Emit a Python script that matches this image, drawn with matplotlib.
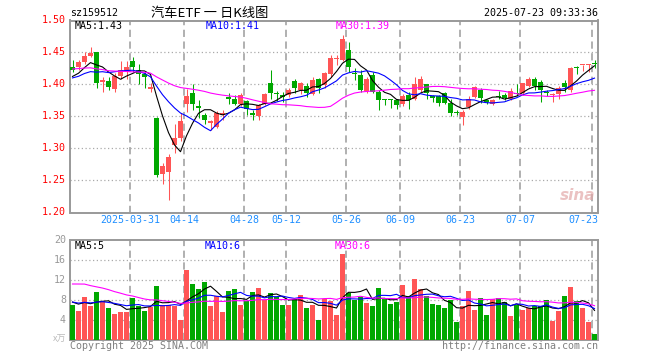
import matplotlib
matplotlib.use("Agg")
import matplotlib.pyplot as plt
import matplotlib.transforms as mtransforms
import numpy as np
import pandas as pd

# daily candles 2025-03-17 .. 2025-07-23 (88 trading days)
opens = [1.428, 1.427, 1.435, 1.444, 1.450, 1.404, 1.406, 1.393, 1.413, 1.421,
         1.436, 1.423, 1.417, 1.393, 1.348, 1.260, 1.264, 1.305, 1.316, 1.370,
         1.387, 1.367, 1.352, 1.340, 1.334, 1.352, 1.381, 1.378, 1.370, 1.374,
         1.356, 1.350, 1.369, 1.402, 1.387, 1.384, 1.383, 1.406, 1.392, 1.397,
         1.385, 1.408, 1.399, 1.417, 1.440, 1.439, 1.454, 1.417, 1.415, 1.390,
         1.415, 1.389, 1.377, 1.376, 1.375, 1.370, 1.383, 1.378, 1.391, 1.400,
         1.382, 1.382, 1.386, 1.371, 1.357, 1.349, 1.365, 1.381, 1.392, 1.376,
         1.370, 1.381, 1.383, 1.378, 1.387, 1.386, 1.398, 1.408, 1.404, 1.388,
         1.384, 1.385, 1.403, 1.391, 1.426, 1.430, 1.431, 1.433]
highs = [1.439, 1.439, 1.450, 1.459, 1.450, 1.412, 1.412, 1.418, 1.437, 1.437,
         1.443, 1.432, 1.419, 1.403, 1.349, 1.278, 1.291, 1.338, 1.355, 1.393,
         1.400, 1.375, 1.355, 1.344, 1.358, 1.360, 1.387, 1.383, 1.387, 1.376,
         1.360, 1.370, 1.386, 1.422, 1.390, 1.389, 1.395, 1.408, 1.404, 1.402,
         1.412, 1.410, 1.420, 1.446, 1.446, 1.478, 1.467, 1.425, 1.422, 1.412,
         1.420, 1.391, 1.378, 1.378, 1.377, 1.385, 1.389, 1.412, 1.413, 1.401,
         1.383, 1.383, 1.389, 1.377, 1.360, 1.360, 1.382, 1.397, 1.395, 1.378,
         1.378, 1.390, 1.387, 1.394, 1.401, 1.403, 1.412, 1.412, 1.407, 1.391,
         1.386, 1.397, 1.407, 1.427, 1.429, 1.431, 1.432, 1.438]
lows = [1.419, 1.423, 1.432, 1.443, 1.395, 1.388, 1.392, 1.388, 1.409, 1.408,
        1.419, 1.400, 1.395, 1.389, 1.256, 1.245, 1.219, 1.293, 1.312, 1.357,
        1.360, 1.347, 1.338, 1.329, 1.332, 1.345, 1.369, 1.368, 1.366, 1.352,
        1.345, 1.344, 1.368, 1.378, 1.374, 1.373, 1.381, 1.387, 1.385, 1.381,
        1.383, 1.386, 1.394, 1.412, 1.430, 1.437, 1.420, 1.407, 1.389, 1.387,
        1.386, 1.360, 1.368, 1.364, 1.361, 1.366, 1.361, 1.375, 1.389, 1.378,
        1.373, 1.366, 1.369, 1.351, 1.352, 1.336, 1.362, 1.379, 1.371, 1.369,
        1.368, 1.377, 1.376, 1.376, 1.382, 1.383, 1.396, 1.391, 1.373, 1.382,
        1.373, 1.378, 1.388, 1.389, 1.416, 1.421, 1.420, 1.425]
closes = [1.423, 1.435, 1.444, 1.449, 1.402, 1.407, 1.396, 1.413, 1.423, 1.427,
          1.427, 1.417, 1.412, 1.396, 1.258, 1.272, 1.286, 1.316, 1.343, 1.382,
          1.370, 1.364, 1.344, 1.343, 1.356, 1.356, 1.377, 1.370, 1.384, 1.362,
          1.352, 1.368, 1.385, 1.387, 1.385, 1.381, 1.392, 1.394, 1.402, 1.386,
          1.407, 1.395, 1.418, 1.441, 1.441, 1.471, 1.427, 1.416, 1.391, 1.408,
          1.389, 1.375, 1.376, 1.375, 1.368, 1.382, 1.375, 1.400, 1.408, 1.386,
          1.379, 1.371, 1.371, 1.356, 1.356, 1.357, 1.378, 1.396, 1.379, 1.373,
          1.375, 1.380, 1.379, 1.390, 1.385, 1.402, 1.409, 1.397, 1.391, 1.387,
          1.385, 1.395, 1.396, 1.426, 1.425, 1.431, 1.432, 1.432]
# volume (x 10k)
volumes = [7.0, 5.9, 8.6, 6.8, 9.6, 7.8, 6.4, 5.2, 5.6, 5.6,
           8.5, 6.8, 5.9, 6.7, 10.8, 7.0, 7.0, 6.9, 4.0, 14.0,
           11.2, 10.2, 11.6, 6.8, 8.8, 5.7, 9.8, 10.2, 7.0, 7.9,
           9.6, 10.4, 8.0, 9.4, 8.6, 7.0, 7.0, 8.3, 9.0, 6.4,
           7.0, 4.0, 8.2, 7.8, 5.0, 17.2, 9.5, 8.1, 8.7, 7.5,
           6.8, 10.4, 8.3, 7.2, 7.7, 11.0, 8.8, 12.2, 10.2, 8.8,
           7.2, 7.0, 6.4, 8.1, 3.6, 6.8, 9.8, 6.0, 8.4, 5.0,
           8.3, 8.4, 7.6, 4.8, 7.0, 6.0, 6.5, 6.8, 6.8, 8.0,
           3.9, 5.8, 8.8, 10.6, 7.8, 6.4, 3.6, 1.2]

# sessions before the window, only used to seed the moving averages
prior_close = [1.41, 1.42, 1.44, 1.45, 1.44, 1.45, 1.43, 1.44, 1.43, 1.44,
               1.43, 1.42, 1.44, 1.43, 1.42, 1.43, 1.44, 1.43, 1.42, 1.41,
               1.41, 1.40, 1.42, 1.41, 1.40, 1.41, 1.40, 1.41, 1.42]
prior_volume = [6, 9, 16, 17, 15, 16, 17, 15, 16, 15,
                16, 14.7, 12, 11, 12, 11, 12, 11, 11.4, 7,
                8, 7, 8, 8, 7, 7.9, 7, 8, 8]

date_idx = [10, 19, 29, 36, 46, 55, 65, 75, 87]
date_labels = ["2025-03-31", "04-14", "04-28", "05-12", "05-26",
               "06-09", "06-23", "07-07", "07-23"]
price_ticks = [1.50, 1.45, 1.40, 1.35, 1.30, 1.25, 1.20]
vol_ticks = [20, 16, 12, 8, 4]
price_legend = ["MA5:1.43", "MA10:1.41", "MA30:1.39"]
vol_legend = ["MA5:5", "MA10:6", "MA30:6"]

RED = '#ff5555'
GREEN = '#00a800'
GRID = '#aaaaaa'
MA_COLORS = ['black', '#0000ff', '#ff00ff']

plt.rcParams['font.family'] = ['DejaVu Sans Mono']
plt.rcParams['font.size'] = 7.2

W, H = 660, 360
fig = plt.figure(figsize=(W / 100, H / 100), dpi=100)
ax = fig.add_axes([70 / W, 1 - 212.5 / H, 528 / W, 192 / H])
axv = fig.add_axes([70 / W, 20 / H, 528 / W, 100 / H])

n = len(closes)
idx = np.arange(n)
o = np.array(opens)
c = np.array(closes)
up = c >= o
colors = np.where(up, RED, GREEN)
bw = 5 / 6
mid = idx + bw / 2

# candles
body_lo = np.minimum(o, c)
body_h = np.maximum(np.abs(c - o), 0.0016)
ax.vlines(mid, lows, highs, colors=colors, linewidth=0.75, zorder=3)
ax.bar(idx, body_h, bottom=body_lo, width=bw, align='edge',
       color=colors, linewidth=0, zorder=4)

# moving averages
all_close = pd.Series(prior_close + closes)
all_vol = pd.Series(prior_volume + volumes)
for win, col in zip([5, 10, 30], MA_COLORS):
    ma = all_close.rolling(win).mean().values[-n:]
    ax.plot(mid, ma, color=col, linewidth=0.8, zorder=5)
    vma = all_vol.rolling(win).mean().values[-n:]
    axv.plot(mid, vma, color=col, linewidth=0.8, zorder=5)

# volume bars
axv.bar(idx, volumes, width=bw, align='edge', color=colors, linewidth=0, zorder=3)

for a, lo, hi in [(ax, 1.20, 1.50), (axv, 0, 20)]:
    a.set_xlim(0, n)
    a.set_ylim(lo, hi)
    a.set_xticks([])
    a.set_yticks([])
    for s in a.spines.values():
        s.set_color('#999999')
        s.set_linewidth(1.4)
    for d in date_idx:
        a.axvline(d + 0.08, color=GRID, linewidth=1.3, dashes=(4, 2.5), zorder=1)

for p in price_ticks[1:-1]:
    ax.axhline(p, color=GRID, linewidth=0.9, dashes=(1, 2), zorder=1)
for v in vol_ticks[1:]:
    axv.axhline(v, color=GRID, linewidth=0.9, dashes=(1, 2), zorder=1)

# axis labels
ty = mtransforms.blended_transform_factory(ax.transAxes, ax.transData)
for p in price_ticks:
    ax.text(-4 / 528, p, f"{p:.2f}", transform=ty, ha='right', va='center', color='red')
tyv = mtransforms.blended_transform_factory(axv.transAxes, axv.transData)
for v in vol_ticks:
    axv.text(-4 / 528, v, str(v), transform=tyv, ha='right', va='center', color='#999999')
axv.text(-4 / 528, 0.2, "x万", transform=tyv, ha='right', va='center', color='#bbbbbb',
         family=['Noto Sans CJK SC', 'DejaVu Sans'], fontsize=6.5)

tx = mtransforms.blended_transform_factory(ax.transData, ax.transAxes)
for d, lab in zip(date_idx, date_labels):
    ha = 'right' if d == date_idx[-1] else 'center'
    xx = n if ha == 'right' else d
    ax.text(xx, -7.5 / 192, lab, transform=tx, ha=ha, va='center', color='#1f8fff')

# in-panel legends
for xp, lab, col in zip([75, 206, 336], price_legend, MA_COLORS):
    fig.text(xp / W, 1 - 26 / H, lab, ha='left', va='center', color=col)
for xp, lab, col in zip([75, 205, 335], vol_legend, MA_COLORS):
    fig.text(xp / W, 1 - 246 / H, lab, ha='left', va='center', color=col)

# header
fig.text(70 / W, 1 - 13 / H, "sz159512", ha='left', va='center', color='black')
fig.text(151 / W, 1 - 13 / H, "汽车ETF 一 日K线图", ha='left', va='center', color='black',
         family=['Noto Sans CJK SC', 'DejaVu Sans'], fontsize=9.5)
fig.text(598 / W, 1 - 13 / H, "2025-07-23 09:33:36", ha='right', va='center', color='black')

# footer
fig.text(70 / W, 1 - 346 / H, "Copyright 2025 SINA.COM", ha='left', va='center', color='#808080')
fig.text(598 / W, 1 - 346 / H, "http://finance.sina.com.cn", ha='right', va='center', color='#808080')

# watermark
ax.text(0.995, 0.05, "sina", transform=ax.transAxes, ha='right', va='bottom',
        color='#e3a8a8', alpha=0.7, fontsize=11, style='italic', weight='bold',
        family='DejaVu Sans')

fig.savefig("out.png", dpi=100)
